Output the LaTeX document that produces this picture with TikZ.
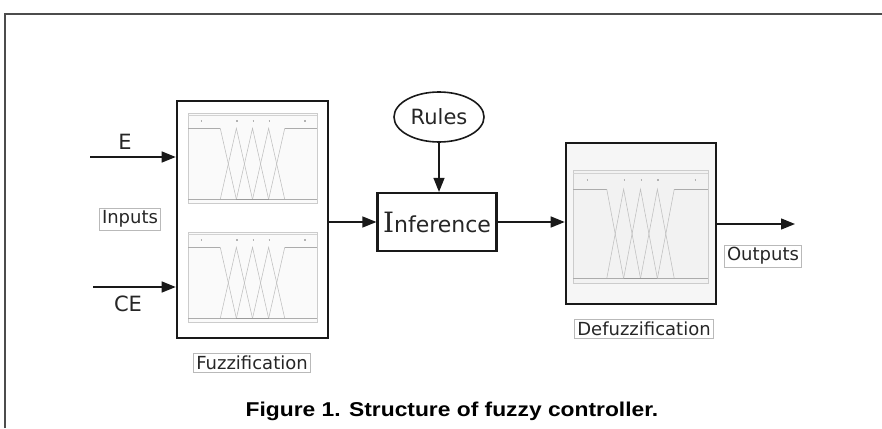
\documentclass[tikz,border=0pt]{standalone}
\usepackage{fontspec}
\setmainfont{DejaVu Sans}
\newfontfamily\capfont{Liberation Sans}
\newfontfamily\serI{DejaVu Serif}
\usetikzlibrary{arrows.meta,shapes.geometric}
\newcommand{\mfplot}[5]{%
  \begin{scope}[shift={(#1,#2)},xscale=#3,yscale=#4]
    \draw[gray!40,fill=#5,line width=0.6pt] (0,0) rectangle (1,1);
    \draw[gray!35,line width=0.5pt] (0,0.03) -- (1,0.03);
    \foreach \xx in {0.1,0.375,0.5,0.625,0.9}{\draw[gray!60,line width=1.6pt] (\xx,0.09) -- ++(0.012,0);}
    \draw[gray!65,line width=1pt] (0,0.17) -- (0.25,0.17);
    \draw[gray!65,line width=1pt] (0.75,0.17) -- (1,0.17);
    \draw[gray!50,line width=0.55pt] (0.25,0.17) -- (0.375,0.96);
    \draw[gray!50,line width=0.55pt] (0.25,0.96) -- (0.375,0.17) -- (0.5,0.96);
    \draw[gray!50,line width=0.55pt] (0.375,0.96) -- (0.5,0.17) -- (0.625,0.96);
    \draw[gray!50,line width=0.55pt] (0.5,0.96) -- (0.625,0.17) -- (0.75,0.96);
    \draw[gray!50,line width=0.55pt] (0.625,0.96) -- (0.75,0.17);
    \draw[gray!65,line width=1pt] (0,0.96) -- (1,0.96);
    \draw[gray!80,line width=1.1pt] (0.375,0.96) -- (0.625,0.96);
  \end{scope}}
\begin{document}
\begin{tikzpicture}[x=1pt,y=-1pt,
  lbl/.style={draw=gray!55,line width=0.7pt,inner sep=2.5pt,text=black!85,font=\fontsize{18}{20}\selectfont},
  blk/.style={draw=black!90,line width=2.6pt,fill=white},
  arr/.style={-{Triangle[length=14pt,width=11pt]},line width=1.4pt,black!90},
  big/.style={font=\fontsize{21}{24}\selectfont,text=black!85}]
\useasboundingbox (0,0) rectangle (882,428);
% frame
\draw[line width=1.5pt,black!70] (5,428) -- (5,14) -- (882,14);
% fuzzification block
\node[blk,minimum width=151pt,minimum height=237pt,inner sep=0pt] (fuzz) at (252.5,219.5) {};
\mfplot{188}{113}{129}{90}{gray!4}
\mfplot{188}{232}{129}{90}{gray!4}
\node[lbl] (fuzzl) at (252,363) {Fuzzification};
% inputs
\node[lbl] (inputs) at (130,219) {Inputs};
\coordinate (e0) at (90,157);
\coordinate (ce0) at (93,287);
\draw[arr] (e0) -- (fuzz.west |- e0);
\draw[arr] (ce0) -- (fuzz.west |- ce0);
\node[big] (elbl) at (125,142) {E};
\node[big] (celbl) at (128,304) {CE};
% inference
\node[draw=black!90,line width=2.2pt,minimum width=119pt,minimum height=58pt,inner sep=0pt,text=black!85] (inf) at (437,222)
  {{\fontsize{28}{28}\selectfont\serI I}{\fontsize{22}{24}\selectfont nference}};
\node[ellipse,draw=black!90,line width=1.6pt,minimum width=90pt,minimum height=50pt,inner sep=0pt,big] (rules) at (439,117) {Rules};
\draw[arr,line width=1.2pt] (rules) -- (inf.north -| rules);
% defuzzification block
\node[blk,fill=gray!7,minimum width=150pt,minimum height=161pt,inner sep=0pt] (defuzz) at (641,223.5) {};
\mfplot{573}{170}{135}{113}{gray!10}
\node[lbl] (defuzzl) at (644,329) {Defuzzification};
% connectors
\draw[arr] (fuzz.east |- inf.west) -- (inf.west);
\draw[arr] (inf.east) -- (defuzz.west |- inf.east);
\coordinate (out) at (795,224);
\draw[arr] (defuzz.east |- out) -- (out);
\node[lbl] (outputs) at (763,256) {Outputs};
% caption
\node[font=\capfont\bfseries\fontsize{20}{22}\selectfont] (cap) at (452,411) {\scalebox{1.14}[1]{Figure 1. Structure of fuzzy controller.}};
\end{tikzpicture}
\end{document}
